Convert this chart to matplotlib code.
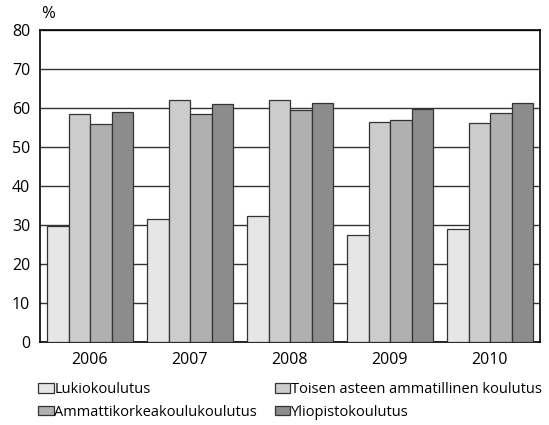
import numpy as np
import matplotlib
matplotlib.use("Agg")
import matplotlib.pyplot as plt

plt.rcParams['font.family'] = ['Open Sans', 'DejaVu Sans']

years = ["2006", "2007", "2008", "2009", "2010"]
lukio = [29.8, 31.5, 32.2, 27.4, 29.0]
toinen_aste = [58.5, 62.1, 62.0, 56.5, 56.2]
amk = [55.8, 58.5, 59.5, 56.8, 58.8]
yliopisto = [59.1, 60.9, 61.4, 59.7, 61.2]

series = [
    ("Lukiokoulutus", lukio, "#e6e6e6"),
    ("Toisen asteen ammatillinen koulutus", toinen_aste, "#cccccc"),
    ("Ammattikorkeakoulukoulutus", amk, "#b0b0b0"),
    ("Yliopistokoulutus", yliopisto, "#8c8c8c"),
]

fig = plt.figure(figsize=(5.49, 4.25), dpi=100)
ax = fig.add_axes([40 / 549, 1 - 342 / 425, 500 / 549, 312 / 425])

x = np.arange(len(years))
w = 0.215
for i, (name, vals, col) in enumerate(series):
    ax.bar(x + (i - 1.5) * w, vals, w, color=col, edgecolor="#333333",
           linewidth=0.9, label=name, zorder=3)

ax.set_xlim(-0.5, len(years) - 0.5)
ax.set_ylim(0, 80)
ax.set_yticks(range(0, 81, 10))
ax.set_xticks(x)
ax.set_xticklabels(years)
ax.yaxis.grid(True, color="#333333", linewidth=1, zorder=0)
ax.tick_params(length=0, labelsize=11.5)
ax.tick_params(axis="y", pad=7)
ax.tick_params(axis="x", pad=7)
for s in ax.spines.values():
    s.set_color("black")
    s.set_linewidth(1.2)
ax.text(0.002, 1.025, "%", transform=ax.transAxes, fontsize=12, ha="left", va="bottom")

# legend fills columns first, so interleave to get row-wise order
handles, labels = ax.get_legend_handles_labels()
order = [0, 2, 1, 3]
fig.legend([handles[k] for k in order], [labels[k] for k in order], ncol=2,
           loc="upper left", bbox_to_anchor=(31 / 549, 1 - 375 / 425),
           frameon=False, fontsize=10.5, handlelength=1.05, handleheight=0.65,
           handletextpad=0.05, columnspacing=1.2, labelspacing=0.5, borderpad=0)

fig.savefig("out.png", dpi=100)
